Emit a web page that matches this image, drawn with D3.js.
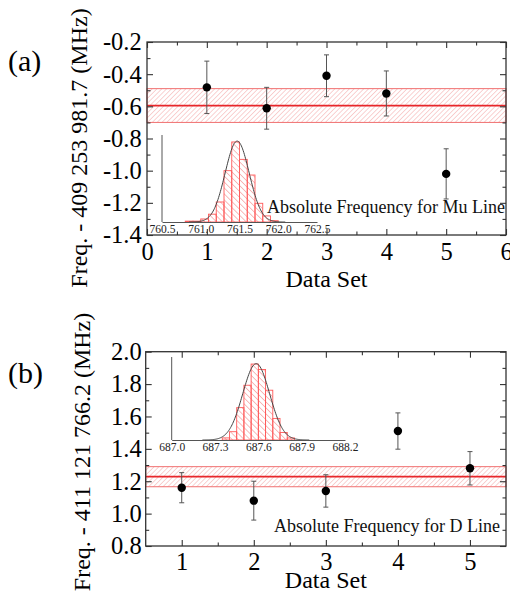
<!DOCTYPE html>
<html>
<head>
<meta charset="utf-8">
<script src="https://cdn.jsdelivr.net/npm/d3@7/dist/d3.min.js"></script>
<style>
  body { margin: 0; background: #fff; }
  svg { display: block; font-family: "Liberation Serif", "Times New Roman", serif; }
</style>
</head>
<body>
<script>
// ---------------- DATA ----------------
// Panel (a): Mu line
const setsA = [1, 2, 3, 4, 5];
const valuesA = [-0.482, -0.612, -0.41, -0.52, -1.02];
const errorsA = [0.163, 0.13, 0.13, 0.14, 0.156];
const meanA = -0.595;
const bandA = 0.105;
const xTicksA = [0, 1, 2, 3, 4, 5, 6];
const xMinorA = [0.5, 1.5, 2.5, 3.5, 4.5, 5.5];
const yTicksA = [-1.4, -1.2, -1.0, -0.8, -0.6, -0.4, -0.2];
const yMinorA = [-1.3, -1.1, -0.9, -0.7, -0.5, -0.3];
// inset (a) histogram
const histEdgesA = [760.8, 760.9, 761.0, 761.1, 761.2, 761.3, 761.4, 761.5, 761.6, 761.7, 761.8, 761.9];
const histCountsA = [1, 1, 3.5, 9, 23, 59, 92, 72, 54, 21.5, 7, 1.5];
const histBinA = 0.1;
const insetTicksA = [760.5, 761.0, 761.5, 762.0, 762.5];
const fitA = { mean: 761.47, sigma: 0.155, amp: 93 };
const labelA = "Absolute Frequency for Mu Line";
const yTitleA = "Freq. - 409 253 981.7 (MHz)";

// Panel (b): D line
const setsB = [1, 2, 3, 4, 5];
const valuesB = [1.16, 1.08, 1.14, 1.51, 1.28];
const errorsB = [0.093, 0.12, 0.1, 0.112, 0.103];
const meanB = 1.228;
const bandB = 0.062;
const xTicksB = [1, 2, 3, 4, 5];
const xMinorB = [1.5, 2.5, 3.5, 4.5];
const yTicksB = [0.8, 1.0, 1.2, 1.4, 1.6, 1.8, 2.0];
const yMinorB = [0.9, 1.1, 1.3, 1.5, 1.7, 1.9];
// inset (b) histogram
const histEdgesB = [687.35, 687.40, 687.45, 687.50, 687.55, 687.60, 687.65, 687.70, 687.75, 687.80];
const histCountsB = [2.5, 10, 39, 66, 91.5, 85, 60, 26, 9, 2.5];
const histBinB = 0.05;
const insetTicksB = [687.0, 687.3, 687.6, 687.9, 688.2];
const fitB = { mean: 687.585, sigma: 0.093, amp: 92 };
const labelB = "Absolute Frequency for D Line";
const yTitleB = "Freq. - 411 121 766.2 (MHz)";

// ---------------- DRAWING ----------------
const svg = d3.select("body").append("svg").attr("width", 510).attr("height", 599);
const defs = svg.append("defs");

function hatch(id, size, angle, color, w) {
  const p = defs.append("pattern").attr("id", id)
    .attr("patternUnits", "userSpaceOnUse")
    .attr("width", size).attr("height", size)
    .attr("patternTransform", `rotate(${angle})`);
  p.append("line").attr("x1", 0).attr("y1", 0).attr("x2", 0).attr("y2", size)
    .attr("stroke", color).attr("stroke-width", w);
}
hatch("bandHatch", 3.4, 45, "#f29a9a", 0.9);
hatch("histHatch", 4.2, -45, "#f06a6a", 0.9);

function panel(cfg) {
  const g = svg.append("g");
  const x = d3.scaleLinear().domain(cfg.xDomain).range([cfg.left, cfg.right]);
  const y = d3.scaleLinear().domain(cfg.yDomain).range([cfg.bottom, cfg.top]);

  // band
  g.append("rect")
    .attr("x", x.range()[0]).attr("width", x.range()[1] - x.range()[0])
    .attr("y", y(cfg.mean + cfg.band)).attr("height", y(cfg.mean - cfg.band) - y(cfg.mean + cfg.band))
    .attr("fill", "url(#bandHatch)").attr("stroke", "#f07070").attr("stroke-width", 1);
  g.append("line")
    .attr("x1", x.range()[0]).attr("x2", x.range()[1])
    .attr("y1", y(cfg.mean)).attr("y2", y(cfg.mean))
    .attr("stroke", "#e8262a").attr("stroke-width", 1.8);

  // inset
  const ix = d3.scaleLinear().domain(cfg.inset.domain).range(cfg.inset.xr);
  const iy = d3.scaleLinear().domain([0, 100]).range(cfg.inset.yr);
  const ig = g.append("g");
  ig.selectAll("rect.bar").data(cfg.inset.edges).enter().append("rect")
    .attr("x", d => ix(d))
    .attr("width", d => ix(d + cfg.inset.bin) - ix(d))
    .attr("y", (d, i) => iy(cfg.inset.counts[i]))
    .attr("height", (d, i) => iy(0) - iy(cfg.inset.counts[i]))
    .attr("fill", "url(#histHatch)").attr("stroke", "#ff5a5a").attr("stroke-width", 0.9);
  const f = cfg.inset.fit;
  const xs = d3.range(f.mean - 4 * f.sigma, f.mean + 4 * f.sigma, f.sigma / 20);
  ig.append("path")
    .attr("d", d3.line().x(d => ix(d)).y(d => iy(f.amp * Math.exp(-((d - f.mean) ** 2) / (2 * f.sigma * f.sigma))))(xs))
    .attr("fill", "none").attr("stroke", "#444").attr("stroke-width", 1);
  const ia = d3.axisBottom(ix).tickValues(cfg.inset.ticks).tickSize(0).tickPadding(cfg.inset.pad)
    .tickFormat(d => d.toFixed(1));
  const iag = ig.append("g").attr("transform", `translate(0,${iy(0)})`).call(ia);
  iag.attr("font-family", null).attr("font-size", null);
  iag.select(".domain").attr("stroke", "#555").attr("stroke-width", 1);
  iag.selectAll("text").attr("font-size", 11.5).attr("fill", "#222")
    .style("font-family", "'Liberation Serif', serif");
  ig.append("line").attr("x1", ix.range()[0]).attr("x2", ix.range()[0])
    .attr("y1", iy.range()[0]).attr("y2", iy.range()[1])
    .attr("stroke", "#555").attr("stroke-width", 1);

  // inset caption
  g.append("text").attr("x", cfg.capX).attr("y", cfg.capY).attr("text-anchor", "end")
    .attr("font-size", 18).attr("fill", "#111").text(cfg.caption);

  // error bars and points
  const pts = g.append("g");
  cfg.sets.forEach((s, i) => {
    const v = cfg.values[i], e = cfg.errors[i];
    pts.append("line").attr("x1", x(s)).attr("x2", x(s)).attr("y1", y(v + e)).attr("y2", y(v - e))
      .attr("stroke", "#555").attr("stroke-width", 1);
    [v + e, v - e].forEach(c => pts.append("line")
      .attr("x1", x(s) - 2.5).attr("x2", x(s) + 2.5).attr("y1", y(c)).attr("y2", y(c))
      .attr("stroke", "#555").attr("stroke-width", 1));
    pts.append("circle").attr("cx", x(s)).attr("cy", y(v)).attr("r", 4.2).attr("fill", "#000");
  });

  // axes
  const fmtX = d => String(d);
  const fmtY = d => d.toFixed(1);
  function ax(gen, tr, vals, size, labels, pad, fmt) {
    const a = gen.tickValues(vals).tickSize(size).tickPadding(pad);
    a.tickFormat(labels ? fmt : () => "");
    const ag = g.append("g").attr("transform", tr).call(a);
    ag.attr("font-family", null).attr("font-size", null);
    ag.select(".domain").remove();
    ag.selectAll("line").attr("stroke", "#333").attr("stroke-width", 1.1);
    ag.selectAll("text").attr("font-size", 24.5).attr("fill", "#000")
      .style("font-family", "'Liberation Serif', serif");
    return ag;
  }
  ax(d3.axisBottom(x), `translate(0,${cfg.bottom})`, cfg.xTicks, -6, true, cfg.xPad, fmtX);
  ax(d3.axisBottom(x), `translate(0,${cfg.bottom})`, cfg.xMinor, -3.5, false, 0, fmtX);
  ax(d3.axisTop(x), `translate(0,${cfg.top})`, cfg.xTicks, -6, false, 0, fmtX);
  ax(d3.axisTop(x), `translate(0,${cfg.top})`, cfg.xMinor, -3.5, false, 0, fmtX);
  ax(d3.axisLeft(y), `translate(${cfg.left},0)`, cfg.yTicks, -6, true, cfg.yPad, fmtY);
  ax(d3.axisLeft(y), `translate(${cfg.left},0)`, cfg.yMinor, -3.5, false, 0, fmtY);
  ax(d3.axisRight(y), `translate(${cfg.right},0)`, cfg.yTicks, -6, false, 0, fmtY);
  ax(d3.axisRight(y), `translate(${cfg.right},0)`, cfg.yMinor, -3.5, false, 0, fmtY);

  g.append("rect").attr("x", cfg.left).attr("y", cfg.top)
    .attr("width", cfg.right - cfg.left).attr("height", cfg.bottom - cfg.top)
    .attr("fill", "none").attr("stroke", "#333").attr("stroke-width", 1.3);

  // titles
  g.append("text").attr("x", (cfg.left + cfg.right) / 2).attr("y", cfg.xTitleY)
    .attr("text-anchor", "middle").attr("font-size", 24).text("Data Set");
  g.append("text").attr("transform", `translate(${cfg.yTitleX},${cfg.yTitleC}) rotate(-90)`)
    .attr("text-anchor", "middle").attr("font-size", 24).text(cfg.yTitle);
  g.append("text").attr("x", 8).attr("y", cfg.tagY).attr("font-size", 30).text(cfg.tag);
}

panel({
  left: 147, right: 506, top: 42, bottom: 235,
  xDomain: [0, 6], yDomain: [-1.4, -0.2],
  xTicks: xTicksA, xMinor: xMinorA, yTicks: yTicksA, yMinor: yMinorA,
  xPad: 7.6, yPad: 5.3,
  sets: setsA, values: valuesA, errors: errorsA, mean: meanA, band: bandA,
  inset: { domain: [760.5, 762.5], xr: [162, 317], yr: [222, 135], edges: histEdgesA,
           counts: histCountsA, bin: histBinA, ticks: insetTicksA, fit: fitA, pad: 3 },
  caption: labelA, capX: 505, capY: 212.5,
  xTitleY: 287, yTitle: yTitleA, yTitleX: 87.3, yTitleC: 148,
  tag: "(a)", tagY: 71
});

panel({
  left: 145.7, right: 506, top: 351.7, bottom: 546,
  xDomain: [0.5, 5.5], yDomain: [0.8, 2.0],
  xTicks: xTicksB, xMinor: xMinorB, yTicks: yTicksB, yMinor: yMinorB,
  xPad: 6.6, yPad: 4,
  sets: setsB, values: valuesB, errors: errorsB, mean: meanB, band: bandB,
  inset: { domain: [687.0, 688.2], xr: [171.7, 345], yr: [440, 357], edges: histEdgesB,
           counts: histCountsB, bin: histBinB, ticks: insetTicksB, fit: fitB, pad: 2.5 },
  caption: labelB, capX: 500, capY: 532,
  xTitleY: 588, yTitle: yTitleB, yTitleX: 90, yTitleC: 452,
  tag: "(b)", tagY: 383
});
</script>
</body>
</html>
